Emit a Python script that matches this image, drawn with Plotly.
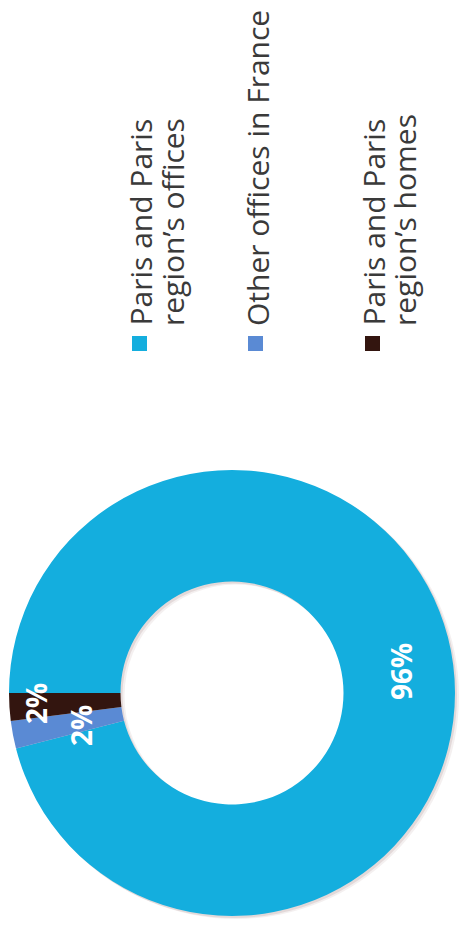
import plotly.graph_objects as go

# Data
categories = [
    "Paris and Paris region’s offices",
    "Other offices in France",
    "Paris and Paris region’s homes",
]
legend_lines = [
    ["Paris and Paris", "region’s offices"],
    ["Other offices in France"],
    ["Paris and Paris", "region’s homes"],
]
shares = [96, 2, 2]
colors = ["#14AEDE", "#5A8AD4", "#33150F"]

# Canvas helpers (pixel -> paper)
W, H = 459, 946


def px(x):
    return x / W


def py(y):
    return 1 - y / H


# Donut placement in pixels
cx, cy, diam = 232, 693, 446
hole = 0.5


def domain(dx=0, dy=0):
    return dict(
        x=[px(cx - diam / 2 + dx), px(cx + diam / 2 + dx)],
        y=[py(cy + diam / 2 + dy), py(cy - diam / 2 + dy)],
    )


fig = go.Figure()

# soft drop shadow under the ring
for dx, dy, a in [(4, 3, 0.08), (2, 2, 0.12)]:
    fig.add_trace(go.Pie(
        values=[1], domain=domain(dx, dy), hole=hole, sort=False,
        marker=dict(colors=[f"rgba(110,60,60,{a})"]),
        textinfo="none", hoverinfo="skip", showlegend=False,
    ))

# the donut itself
fig.add_trace(go.Pie(
    labels=categories, values=shares, hole=hole, sort=False,
    direction="clockwise", rotation=-90,
    marker=dict(colors=colors, line=dict(width=0)),
    textinfo="none", showlegend=False, domain=domain(),
))

# rotated value labels on the ring
slice_label_pos = [(401, 672), (81, 726), (36, 704)]
for v, (x, y) in zip(shares, slice_label_pos):
    fig.add_annotation(
        x=px(x), y=py(y), xref="paper", yref="paper",
        text=f"{v}%", textangle=-90, showarrow=False,
        xanchor="center", yanchor="middle",
        font=dict(family="Open Sans", size=28, color="white", weight="bold"),
    )

# rotated legend: colour square + label lines
legend_cols = [[140, 173], [258], [373, 405]]
square_x = [132, 248, 365]
for lines, cols, sx, c in zip(legend_lines, legend_cols, square_x, colors):
    fig.add_shape(
        type="rect", xref="paper", yref="paper",
        x0=px(sx), x1=px(sx + 15), y0=py(351), y1=py(336),
        fillcolor=c, line=dict(width=0),
    )
    for t, x in zip(lines, cols):
        fig.add_annotation(
            x=px(x), y=py(328), xref="paper", yref="paper",
            text=t, textangle=-90, showarrow=False,
            xanchor="center", yanchor="bottom",
            font=dict(family="Open Sans", size=30, color="#3a3a3a"),
        )

fig.update_layout(
    width=W, height=H,
    margin=dict(l=0, r=0, t=0, b=0),
    paper_bgcolor="white", plot_bgcolor="white",
    showlegend=False,
)

fig.write_html("out.html")
